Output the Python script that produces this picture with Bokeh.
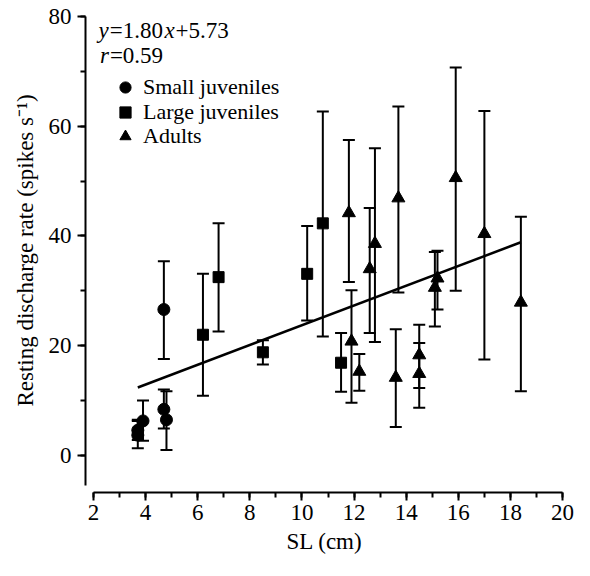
from bokeh.plotting import figure
from bokeh.models import (ColumnDataSource, Whisker, TeeHead, Range1d,
                          SingleIntervalTicker, Legend, LegendItem, Label)
from bokeh.embed import file_html
from bokeh.resources import INLINE

# ---------------- data ----------------
small_x = [3.7, 3.7, 3.9, 4.7, 4.8, 4.7]
small_y = [4.6, 3.7, 6.3, 8.4, 6.5, 26.6]
small_hi = [6.5, 6.3, 10.0, 12.0, 11.7, 35.4]
small_lo = [2.8, 1.3, 2.7, 4.9, 1.0, 17.6]

large_x = [6.2, 6.8, 8.5, 10.2, 10.8, 11.5]
large_y = [22.0, 32.5, 18.8, 33.1, 42.3, 16.9]
large_hi = [33.1, 42.3, 21.0, 41.8, 62.7, 22.3]
large_lo = [10.9, 22.6, 16.6, 24.6, 21.7, 11.6]

adult_x = [11.8, 11.9, 12.2, 12.6, 12.8, 13.6, 13.7, 14.5, 14.5, 15.1, 15.2, 15.9, 17.0, 18.4]
adult_y = [44.2, 20.8, 15.3, 34.0, 38.6, 14.2, 46.9, 18.3, 14.9, 30.6, 32.3, 50.6, 40.4, 27.9]
adult_hi = [57.5, 30.1, 18.5, 45.1, 56.0, 23.0, 63.6, 23.8, 20.5, 37.1, 37.3, 70.7, 62.8, 43.5]
adult_lo = [31.6, 9.6, 11.8, 22.3, 20.7, 5.2, 29.7, 12.3, 8.7, 23.5, 26.6, 30.0, 17.5, 11.7]

slope = 1.80
intercept = 5.73
r_value = 0.59

series_labels = ["Small juveniles", "Large juveniles", "Adults"]
x_label = "SL (cm)"
y_label = "Resting discharge rate (spikes s\u207b\u00b9)"

FONT = "Liberation Serif"

# ---------------- figure ----------------
p = figure(width=574, height=560, output_backend="svg", toolbar_location=None,
           x_range=Range1d(1.693, 20.036), y_range=Range1d(-6.75, 81.458),
           min_border_left=85, min_border_right=11, min_border_top=8,
           min_border_bottom=68)
p.xgrid.visible = False
p.ygrid.visible = False
p.outline_line_color = None
p.background_fill_color = "white"
p.border_fill_color = "white"

p.xaxis.ticker = SingleIntervalTicker(interval=2, num_minor_ticks=2)
p.yaxis.ticker = SingleIntervalTicker(interval=20, num_minor_ticks=2)
p.xaxis.bounds = (2, 20)
p.yaxis.bounds = (-5.5, 80)

for ax in (p.xaxis[0], p.yaxis[0]):
    ax.axis_line_width = 2
    ax.axis_line_color = "black"
    ax.major_tick_line_width = 2
    ax.minor_tick_line_width = 2
    ax.major_tick_line_color = "black"
    ax.minor_tick_line_color = "black"
    ax.major_tick_out = 8
    ax.major_tick_in = 0
    ax.minor_tick_out = 5
    ax.minor_tick_in = 0
    ax.major_label_text_font = FONT
    ax.major_label_text_font_size = "23px"
    ax.major_label_text_color = "black"
    ax.axis_label_text_font = FONT
    ax.axis_label_text_font_size = "23px"
    ax.axis_label_text_font_style = "normal"
    ax.axis_label_text_color = "black"
p.xaxis.major_label_standoff = 4
p.yaxis.major_label_standoff = 6

p.yaxis.axis_label = y_label
p.yaxis.axis_label_standoff = 8
p.xaxis.axis_label = x_label
p.xaxis.axis_label_standoff = 6

# ---------------- regression line ----------------
all_x = small_x + large_x + adult_x
x0, x1 = min(all_x), max(all_x)
p.line([x0, x1], [slope * x0 + intercept, slope * x1 + intercept],
       line_color="black", line_width=2.5)

# ---------------- error bars + markers ----------------
groups = [
    (small_x, small_y, small_hi, small_lo, "circle", 12),
    (large_x, large_y, large_hi, large_lo, "square", 11),
    (adult_x, adult_y, adult_hi, adult_lo, "triangle", 13),
]
renderers = []
for xs, ys, his, los, marker, size in groups:
    src = ColumnDataSource(dict(x=xs, y=ys, hi=his, lo=los))
    w = Whisker(source=src, base="x", upper="hi", lower="lo", dimension="height",
                line_color="black", line_width=2,
                upper_head=TeeHead(size=12, line_width=2, line_color="black"),
                lower_head=TeeHead(size=12, line_width=2, line_color="black"))
    p.add_layout(w)
    r = p.scatter("x", "y", source=src, marker=marker, size=size,
                  fill_color="black", line_color="black")
    renderers.append(r)

# one single-entry legend per series so that the row pitch matches the original
legend_y = [391, 366.5, 342]
for lab_text, r, ly in zip(series_labels, renderers, legend_y):
    lg = Legend(items=[LegendItem(label=lab_text, renderers=[r])],
                location=(26, ly), padding=0, margin=0, spacing=0,
                glyph_width=28, glyph_height=28, label_height=28,
                label_standoff=4,
                label_text_font=FONT, label_text_font_size="22px",
                label_text_color="black",
                border_line_alpha=0, background_fill_alpha=0)
    p.add_layout(lg)

# ---------------- equation text ----------------
def lab(text, x, y, style="normal", align="left", size="23px"):
    p.add_layout(Label(x=x, y=y, x_units="screen", y_units="screen", text=text,
                       text_font=FONT, text_font_size=size, text_font_style=style,
                       text_align=align, text_baseline="alphabetic",
                       text_color="black"))

eq_mid = "=%.2f" % slope
eq_end = "+%.2f" % intercept
lab("y", 13, 461.7, "italic")
lab(eq_mid, 24.2, 461.7)
lab("x", 78.9, 461.7, "italic")
lab(eq_end, 90.1, 461.7)
lab("r", 14.5, 437.3, "italic")
lab("=%.2f" % r_value, 24.4, 437.3)

open("out.html", "w").write(file_html(p, INLINE))
